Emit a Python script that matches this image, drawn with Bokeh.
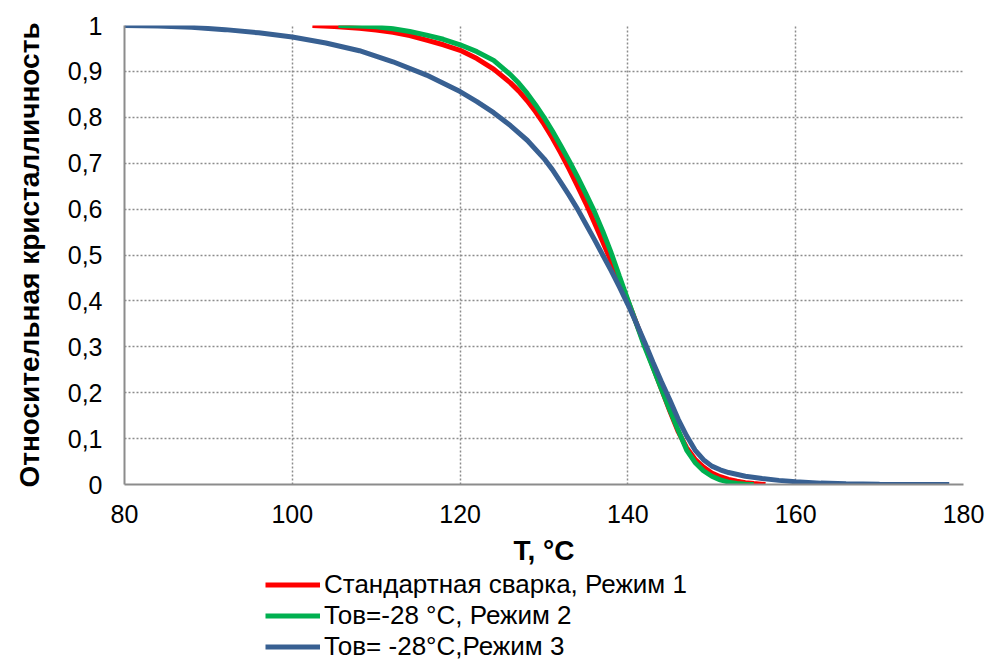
from bokeh.plotting import figure
from bokeh.models import (Legend, LegendItem, FixedTicker, CustomJSTickFormatter,
                          Range1d)
from bokeh.layouts import column
from bokeh.embed import file_html
from bokeh.resources import INLINE

# ---- data ----
red_T = [102.4, 105, 108, 110, 112, 114, 116, 118, 120, 122, 124, 126, 127, 128, 129,
         130, 131, 132, 133, 134, 135, 136, 137, 138, 139, 140, 141, 142, 143, 144,
         145, 146, 147, 148, 149, 150, 151, 152, 153, 154, 155, 156.4]
red_y = [1.0, 0.998, 0.994, 0.99, 0.985, 0.978, 0.968, 0.958, 0.946, 0.928, 0.905,
         0.875, 0.857, 0.836, 0.812, 0.785, 0.755, 0.722, 0.687, 0.65, 0.612, 0.571,
         0.529, 0.486, 0.443, 0.40, 0.352, 0.304, 0.256, 0.208, 0.16, 0.115, 0.08,
         0.055, 0.038, 0.025, 0.017, 0.011, 0.007, 0.004, 0.002, 0.0]

green_T = [105.5, 108, 110, 112, 114, 116, 118, 120, 122, 124, 126, 127, 128, 129,
           130, 131, 132, 133, 134, 135, 136, 137, 138, 139, 140, 141, 142, 143, 144,
           145, 146, 147, 148, 149, 150, 151, 152, 153, 154, 155]
green_y = [1.0, 0.999, 0.997, 0.993, 0.987, 0.979, 0.97, 0.958, 0.943, 0.924, 0.893,
           0.874, 0.852, 0.827, 0.80, 0.77, 0.738, 0.705, 0.67, 0.633, 0.595, 0.552,
           0.505, 0.453, 0.402, 0.351, 0.30, 0.254, 0.208, 0.162, 0.118, 0.075, 0.048,
           0.03, 0.018, 0.01, 0.005, 0.002, 0.0007, 0.0]

blue_T = [80, 84, 88, 92, 96, 100, 104, 108, 112, 116, 120, 122, 124, 126, 128, 130,
          131, 132, 133, 134, 135, 136, 137, 138, 139, 140, 141, 142, 143, 144, 145,
          146, 147, 148, 149, 150, 151, 152, 154, 156, 158, 160, 163, 166, 170, 178.3]
blue_y = [1.0, 0.999, 0.996, 0.991, 0.984, 0.975, 0.962, 0.945, 0.921, 0.892, 0.856,
          0.834, 0.81, 0.782, 0.75, 0.71, 0.686, 0.658, 0.63, 0.60, 0.567, 0.534,
          0.50, 0.466, 0.43, 0.392, 0.352, 0.31, 0.266, 0.224, 0.184, 0.142, 0.106,
          0.075, 0.054, 0.04, 0.032, 0.026, 0.018, 0.013, 0.009, 0.006, 0.003,
          0.0015, 0.0007, 0.0]

series_names = ["Стандартная сварка, Режим 1", "Тов=-28 °С, Режим 2", "Тов= -28°С,Режим 3"]
series_colors = ["#FF0000", "#00B050", "#386092"]

x_ticks = [80, 100, 120, 140, 160, 180]
y_ticks = [0, 0.1, 0.2, 0.3, 0.4, 0.5, 0.6, 0.7, 0.8, 0.9, 1.0]

x_title = "T, °C"
y_title = "Относительная кристалличность"

FONT = "Liberation Sans"
W = 985

p = figure(width=W, height=574, output_backend="svg", toolbar_location=None,
           x_range=Range1d(80, 180), y_range=Range1d(0, 1),
           min_border_left=124, min_border_right=22, min_border_top=25,
           min_border_bottom=90)
p.outline_line_color = None
p.background_fill_color = "white"
p.border_fill_color = "white"

curves = [(red_T, red_y), (green_T, green_y), (blue_T, blue_y)]
for (xs, ys), c in zip(curves, series_colors):
    p.line(xs, ys, line_color=c, line_width=5)

# axes
p.xaxis.ticker = FixedTicker(ticks=x_ticks)
p.yaxis.ticker = FixedTicker(ticks=y_ticks)
p.yaxis.formatter = CustomJSTickFormatter(
    code="var s = tick.toFixed(1).replace('.', ','); if (s.endsWith(',0')) { s = s.slice(0, -2); } return s;")

for ax in (p.xaxis[0], p.yaxis[0]):
    ax.axis_line_color = "#8C8C8C"
    ax.axis_line_width = 2
    ax.major_tick_out = 0
    ax.major_tick_in = 0
    ax.minor_tick_out = 0
    ax.minor_tick_in = 0
    ax.major_label_text_font = FONT
    ax.major_label_text_font_size = "25px"
    ax.major_label_text_color = "black"
    ax.axis_label_text_font = FONT
    ax.axis_label_text_font_size = "28px"
    ax.axis_label_text_font_style = "bold"
    ax.axis_label_text_color = "black"

p.xaxis.axis_label = x_title
p.yaxis.axis_label = y_title
p.xaxis.major_label_standoff = 20
p.xaxis.axis_label_standoff = 9
p.yaxis.major_label_standoff = 22
p.yaxis.axis_label_standoff = 20

# grid
for g in (p.xgrid[0], p.ygrid[0]):
    g.grid_line_color = "#8C8C8C"
    g.grid_line_width = 1.5
    g.grid_line_dash = "2 2"

# legend in its own strip below the chart (curves drawn outside its view range)
pl = figure(width=W, height=88, output_backend="svg", toolbar_location=None,
            x_axis_type=None, y_axis_type=None,
            x_range=Range1d(0, 1), y_range=Range1d(5, 6),
            min_border=0, min_border_left=0, min_border_right=0,
            min_border_top=0, min_border_bottom=0)
pl.outline_line_color = None
pl.grid.visible = False
items = []
for name, c, (xs, ys) in zip(series_names, series_colors, curves):
    r = pl.line(xs, ys, line_color=c, line_width=5)
    items.append(LegendItem(label=name, renderers=[r]))

legend = Legend(items=items, location=(141, 0.5), orientation="vertical")
legend.border_line_color = None
legend.background_fill_alpha = 0
legend.padding = 0
legend.margin = 0
legend.spacing = 0
legend.glyph_width = 55
legend.glyph_height = 29
legend.label_height = 29
legend.label_standoff = 4
legend.label_text_font = FONT
legend.label_text_font_size = "26px"
legend.label_text_color = "black"
pl.add_layout(legend, "center")

layout = column(p, pl, spacing=0)
open("out.html", "w").write(file_html(layout, INLINE))
